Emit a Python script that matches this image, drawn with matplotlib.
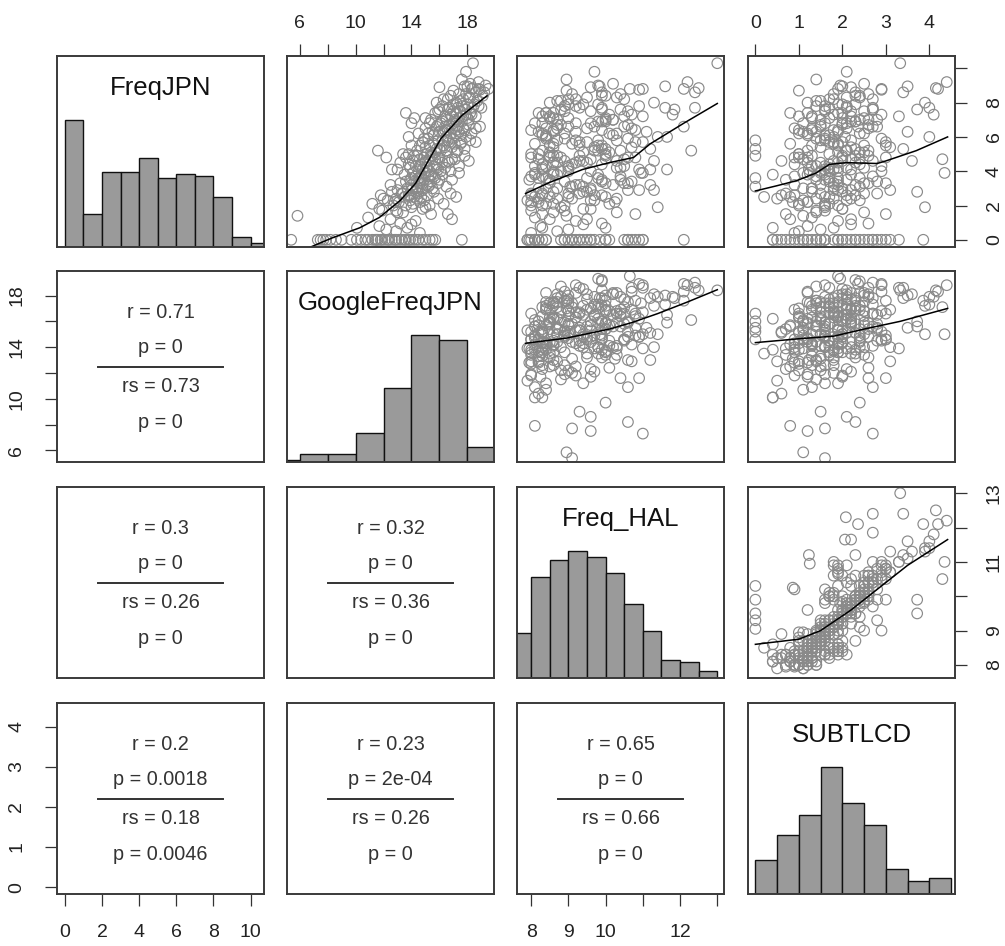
import matplotlib
matplotlib.use('Agg')
import matplotlib.pyplot as plt
import numpy as np

plt.rcParams['font.family'] = ['Liberation Sans', 'DejaVu Sans']

names = ['FreqJPN', 'GoogleFreqJPN', 'Freq_HAL', 'SUBTLCD']

# one row per word: FreqJPN, GoogleFreqJPN, Freq_HAL, SUBTLCD
freq_jpn = [0] * 40 + [
    0.7, 0.8, 0.7, 0.5, 0.9, 0.6, 0.4, 0.95,
    1.4, 1.3, 1.8, 1.2, 1.6, 1.9, 1.1, 1.5, 1.5, 1.2, 1.7, 1.9,
    2.1, 2.6, 2.3, 2.8, 2.4, 2.9, 2.2, 2.7, 2.5, 2.0, 2.6, 2.3, 2.9, 2.1, 2.5, 2.8, 2.4, 2.7, 2.2, 2.9, 2.3, 2.6, 2.0, 2.8, 2.4, 2.1, 2.7, 2.5,
    3.1, 3.6, 3.3, 3.8, 3.0, 3.5, 3.2, 3.9, 3.4, 3.7, 3.1, 3.6, 3.3, 3.8, 3.0, 3.5, 3.9, 3.2, 3.7, 3.4, 3.0, 3.6, 3.3, 3.8, 3.1, 3.5, 3.9, 3.2,
    4.9, 4.1, 4.5, 4.8, 4.2, 4.6, 4.3, 4.9, 4.0, 4.7, 4.4, 4.1, 4.8, 4.5, 4.2, 4.6, 4.0, 4.9, 4.3, 4.7, 4.4, 4.1, 4.8, 4.5, 4.2, 4.6, 4.0, 4.7, 4.3, 4.9, 4.8, 4.1, 4.6,
    5.3, 5.8, 5.0, 5.5, 5.2, 5.7, 5.4, 5.9, 5.1, 5.6, 5.3, 5.8, 5.2, 5.5, 5.2, 5.7, 5.4, 5.9, 5.1, 5.6, 5.3, 5.8, 5.0, 5.5, 5.2, 5.7,
    6.0, 6.2, 6.5, 6.8, 6.1, 6.6, 6.3, 6.9, 6.4, 6.0, 6.7, 6.2, 6.5, 6.8, 6.1, 6.6, 6.3, 6.9, 6.4, 6.0, 6.7, 6.2, 6.5, 6.8, 6.3, 6.6, 6.4,
    7.4, 7.1, 7.0, 7.5, 7.8, 7.2, 7.6, 7.3, 7.9, 7.0, 7.4, 7.7, 7.1, 7.5, 7.8, 7.2, 7.6, 7.3, 7.9, 7.0, 7.4, 7.7, 7.2, 7.8, 7.7, 7.1, 7.6,
    8.8, 8.0, 8.85, 8.8, 8.7, 8.95, 8.8, 8.95, 8.6, 8.2, 8.4, 8.1, 8.5, 8.3, 8.75, 8.0, 8.4, 8.2, 8.9,
    9.35, 9.2, 9.1, 9.0, 9.8, 10.3,
    2.2, 3.4, 4.6, 5.8, 6.9, 7.6, 2.9, 3.9, 5.1, 6.3, 7.2, 8.3, 1.6, 2.5, 3.7, 4.4, 5.6, 6.7, 7.9, 4.0,
    2.7, 3.2, 4.9, 5.4, 6.1, 7.0, 8.5, 3.6, 4.2, 5.0, 6.5, 7.3, 2.4, 3.0, 4.7, 5.9, 6.8, 7.5, 8.1, 1.8,
    3.5, 4.3, 5.5, 6.4, 7.1, 2.6, 3.8, 4.5, 5.7, 6.2, 7.7, 8.6, 2.0, 3.3, 4.8, 5.2, 6.6, 7.4, 8.2, 1.7]

google_freq_jpn = [
    5.4, 7.3, 7.5, 7.7, 7.9, 8.2, 8.6, 9.0, 9.7, 10.1, 10.4, 10.7, 10.9, 11.2, 11.4, 11.5, 11.6, 11.8, 11.9, 12.1,
    12.3, 12.4, 12.6, 12.8, 12.9, 13.1, 13.3, 13.5, 13.6, 13.8, 13.9, 14.1, 14.3, 14.5, 14.8, 15.0, 15.3, 15.5, 15.7, 17.6,
    10.1, 11.7, 13.7, 12.9, 14.0, 12.2, 14.6, 13.2,
    5.85, 10.9, 11.7, 12.5, 13.4, 14.0, 14.3, 15.4, 16.6, 16.9, 12.9, 15.0,
    11.2, 11.8, 12.3, 12.6, 12.9, 13.0, 13.1, 13.3, 13.5, 13.6, 13.8, 13.9, 14.0, 14.1, 14.2, 14.3, 14.4, 14.5, 14.6, 14.8, 14.9, 15.1, 15.3, 15.6, 15.9, 16.3, 16.8, 17.2,
    15.2, 14.6, 13.2, 13.5, 13.7, 13.9, 14.0, 14.1, 14.2, 14.3, 14.4, 14.5, 14.6, 14.7, 14.8, 14.9, 15.0, 15.1, 15.2, 15.4, 15.5, 15.7, 15.9, 16.2, 16.5, 16.9, 17.4, 12.5,
    15.5, 12.6, 13.2, 13.6, 13.9, 14.1, 14.3, 14.4, 14.5, 14.6, 14.7, 14.8, 14.9, 15.0, 15.1, 15.2, 15.3, 15.4, 15.6, 15.7, 15.8, 15.9, 16.0, 16.2, 16.4, 16.6, 16.8, 17.1, 17.4, 17.8, 12.2, 13.0, 18.1,
    16.0, 16.6, 13.4, 14.0, 14.4, 14.8, 15.0, 15.2, 15.4, 15.6, 15.8, 15.9, 16.1, 16.3, 16.5, 16.7, 16.9, 17.0, 17.2, 17.5, 17.8, 18.2, 13.8, 14.6, 11.6, 18.6,
    13.8, 14.5, 15.0, 15.3, 15.6, 15.8, 16.0, 16.2, 16.4, 16.5, 16.7, 16.8, 16.9, 17.0, 17.1, 17.3, 17.4, 17.6, 17.8, 17.9, 18.1, 18.3, 18.6, 14.0, 15.5, 18.9, 16.6,
    13.6, 14.2, 15.4, 15.9, 16.2, 16.4, 16.6, 16.8, 17.0, 17.1, 17.2, 17.3, 17.4, 17.5, 17.6, 17.7, 17.8, 17.9, 18.0, 18.1, 18.2, 18.4, 18.6, 18.8, 19.0, 15.0, 16.0,
    19.5, 17.2, 18.4, 18.3, 17.0, 17.8, 18.8, 18.0, 18.6, 16.3, 16.8, 17.5, 17.9, 18.1, 18.9, 15.8, 19.1, 17.7, 16.0,
    17.6, 18.8, 18.2, 19.3, 17.9, 18.4,
    12.8, 13.6, 15.0, 16.2, 17.2, 17.9, 14.4, 14.9, 15.7, 16.3, 16.9, 18.2, 13.0, 14.7, 15.6, 13.8, 17.1, 15.9, 18.5, 16.1,
    13.4, 15.3, 14.2, 16.4, 17.5, 16.5, 17.4, 14.0, 15.8, 15.1, 17.7, 18.3, 12.0, 14.1, 16.9, 14.9, 16.1, 17.0, 18.7, 14.8,
    16.0, 14.6, 15.3, 17.2, 18.0, 13.9, 15.4, 16.7, 17.6, 15.2, 16.7, 19.2, 12.7, 14.8, 15.9, 17.3, 16.4, 15.7, 16.6, 11.9]

freq_hal = [
    9.1, 11.0, 9.6, 9.1, 8.1, 10.6, 9.6, 9.3, 10.0, 8.1, 8.2, 8.4, 10.6, 9.4, 7.9, 8.8, 10.9, 9.2, 8.0, 9.7,
    8.3, 10.1, 8.9, 7.95, 10.7, 9.1, 8.2, 9.5, 10.0, 8.1, 11.0, 9.3, 8.4, 10.5, 8.9, 9.85, 7.9, 10.8, 9.0, 12.1,
    8.3, 8.25, 10.0, 8.7, 9.4, 9.0, 8.0, 9.9,
    8.95, 8.1, 9.6, 8.5, 10.3, 8.8, 9.2, 8.3, 10.8, 9.5, 8.0, 11.4,
    8.4, 8.0, 9.6, 8.6, 8.2, 10.6, 10.25, 8.3, 8.5, 8.3, 9.9, 7.9, 11.3, 10.1, 8.1, 9.4, 8.7, 9.3, 8.0, 10.9, 9.7, 8.3, 8.9, 9.5, 10.3, 8.6, 9.0, 10.0,
    9.05, 9.5, 8.5, 9.8, 8.2, 7.95, 10.2, 8.6, 10.7, 8.3, 9.1, 8.2, 10.5, 8.1, 9.6, 9.9, 11.0, 11.2, 8.0, 9.9, 8.7, 8.4, 10.0, 8.6, 9.4, 10.4, 10.95, 9.2,
    9.3, 8.3, 9.5, 8.0, 10.3, 10.3, 8.4, 8.5, 8.6, 8.2, 9.9, 10.9, 10.8, 8.7, 8.3, 8.9, 9.6, 10.0, 8.1, 9.6, 9.1, 11.65, 10.6, 8.6, 10.4, 9.3, 9.0, 10.5, 9.0, 8.7, 8.8, 11.2, 11.3,
    9.9, 10.3, 10.0, 9.8, 8.3, 9.5, 8.6, 10.6, 8.5, 8.1, 10.0, 9.8, 12.3, 8.5, 9.7, 11.0, 10.7, 8.4, 9.4, 8.6, 11.2, 9.2, 8.0, 9.9, 10.4, 9.3,
    8.4, 10.1, 8.7, 9.2, 10.2, 10.5, 8.2, 9.8, 10.8, 11.65, 8.8, 10.3, 8.4, 9.6, 8.3, 9.7, 8.6, 10.0, 9.9, 11.4, 8.7, 8.9, 10.7, 8.3, 11.1, 12.1, 8.0,
    8.6, 8.6, 10.0, 8.9, 10.9, 8.3, 10.4, 10.1, 9.8, 8.7, 8.4, 11.6, 8.5, 10.6, 8.9, 10.5, 11.85, 11.8, 9.0, 10.2, 8.4, 9.9, 11.0, 9.2, 12.4, 9.0, 9.9,
    10.65, 11.3, 12.5, 12.1, 8.95, 9.84, 11.0, 11.6, 12.4, 9.2, 10.0, 8.7, 10.4, 9.5, 10.9, 8.5, 9.9, 9.0, 9.6,
    8.95, 12.2, 10.2, 9.8, 9.7, 13.0,
    8.2, 8.9, 9.4, 8.7, 9.9, 8.8, 9.6, 8.1, 10.1, 9.2, 8.5, 10.3, 8.6, 9.0, 10.4, 8.3, 9.1, 10.6, 9.4, 8.8,
    8.0, 9.3, 8.6, 9.7, 8.4, 10.2, 9.1, 9.8, 9.0, 8.2, 9.5, 10.7, 9.1, 8.4, 10.0, 8.9, 8.1, 9.6, 8.8, 9.4,
    8.5, 10.5, 9.3, 8.6, 10.0, 9.7, 8.7, 9.2, 10.8, 8.3, 9.3, 9.9, 8.0, 10.6, 8.5, 9.8, 9.0, 8.2, 10.5, 8.9]

subtlcd = [
    1.6, 2.7, 1.2, 1.6, 0.8, 2.3, 2.1, 1.5, 2.4, 0.4, 0.6, 1.1, 2.7, 1.9, 0.5, 1.4, 3.0, 2.0, 1.2, 2.2,
    0.7, 2.6, 1.8, 0.9, 3.1, 1.5, 1.3, 2.3, 2.0, 0.4, 3.3, 1.6, 1.0, 2.9, 1.9, 2.5, 1.1, 2.8, 1.4, 3.86,
    0.4, 1.2, 1.8, 1.0, 2.2, 1.5, 0.9, 2.6,
    1.1, 1.3, 2.0, 0.8, 2.5, 1.6, 1.9, 0.7, 3.0, 2.2, 1.4, 3.9,
    1.6, 0.9, 2.1, 1.3, 0.5, 1.8, 0.86, 1.5, 0.2, 1.9, 2.3, 1.1, 3.1, 1.7, 0.8, 2.0, 1.4, 2.8, 1.2, 1.9, 2.4, 0.6, 1.6, 3.72, 2.2, 1.0, 2.5, 1.7,
    0.0, 0.0, 1.8, 2.2, 1.3, 0.7, 0.9, 1.5, 1.9, 0.9, 2.4, 1.7, 3.0, 1.2, 2.0, 1.6, 4.35, 2.3, 1.4, 2.8, 1.1, 1.9, 2.5, 0.4, 1.8, 2.1, 1.25, 1.5,
    0.0, 1.6, 2.3, 0.9, 1.9, 2.7, 1.3, 2.0, 1.7, 1.1, 2.4, 1.8, 3.0, 1.5, 2.1, 0.6, 1.9, 2.6, 1.4, 2.2, 1.7, 2.2, 2.0, 1.2, 2.5, 1.8, 2.9, 4.3, 1.6, 2.3, 1.0, 1.23, 3.6,
    0.0, 0.0, 1.7, 2.5, 1.2, 2.0, 1.5, 2.9, 1.9, 0.8, 2.3, 1.6, 2.08, 1.3, 2.1, 1.8, 3.1, 1.4, 2.4, 1.9, 3.4, 2.2, 1.0, 3.0, 2.6, 1.7,
    1.8, 2.4, 1.3, 2.0, 1.6, 2.8, 1.1, 2.2, 1.9, 2.06, 1.5, 2.5, 0.9, 2.1, 1.7, 2.7, 1.4, 2.3, 1.8, 4.0, 2.0, 1.2, 2.6, 1.6, 3.5, 2.36, 1.0,
    1.9, 1.3, 2.4, 1.6, 2.1, 1.0, 2.7, 1.8, 2.3, 1.5, 2.0, 4.0, 1.7, 2.5, 1.4, 2.2, 2.7, 4.1, 1.9, 2.6, 1.2, 2.1, 3.3, 1.6, 2.7, 2.0, 3.72,
    1.9, 3.9, 4.15, 4.2, 1.0, 2.0, 2.9, 3.5, 3.4, 1.8, 2.3, 1.5, 2.6, 2.1, 2.9, 1.2, 2.4, 1.7, 2.2,
    1.4, 4.4, 2.5, 1.95, 2.1, 3.33,
    1.2, 1.7, 2.0, 1.5, 2.3, 1.6, 2.2, 1.1, 2.5, 1.9, 1.3, 2.4, 1.4, 1.6, 2.7, 0.9, 1.8, 2.6, 2.0, 1.5,
    0.7, 1.9, 1.3, 2.2, 1.2, 2.8, 1.8, 2.4, 1.7, 1.0, 2.1, 2.9, 1.8, 1.3, 2.4, 1.6, 1.1, 2.2, 1.4, 2.0,
    1.4, 2.9, 1.9, 1.3, 2.5, 2.1, 1.6, 1.9, 3.0, 1.0, 1.7, 2.3, 1.0, 2.6, 1.2, 2.1, 1.5, 0.8, 2.7, 1.6]

# histogram counts on the diagonal
hist_edges = [np.arange(0, 12, 1), np.arange(4, 22, 2), np.arange(7.5, 13.5, 0.5), np.arange(0, 5.0, 0.5)]
hist_counts = [
    [66, 17, 39, 39, 46, 36, 38, 37, 26, 5, 2],
    [2, 7, 7, 26, 67, 116, 111, 14],
    [20, 45, 53, 57, 54, 47, 33, 21, 8, 7, 3],
    [23, 40, 54, 87, 62, 47, 17, 9, 11],
]

# lowess curves (x, y), keyed by (row, col)
smooth = {
    (0, 1): ([5.4, 6.65, 8.3, 10.3, 11.7, 13.2, 14.3, 15.2, 16.1, 17.6, 19.4],
             [-0.9, -0.47, 0.1, 0.7, 1.3, 2.3, 3.3, 4.6, 5.9, 7.25, 8.4]),
    (0, 2): ([7.85, 8.5, 9.38, 10.1, 10.75, 11.2, 12.1, 13.0],
             [2.7, 3.35, 4.1, 4.5, 4.8, 5.6, 6.8, 7.95]),
    (0, 3): ([0, 0.49, 0.95, 1.4, 1.7, 2.1, 2.8, 3.0, 3.7, 4.42],
             [2.85, 3.15, 3.45, 3.9, 4.4, 4.5, 4.45, 4.6, 5.2, 6.0]),
    (1, 2): ([7.85, 8.95, 10.1, 10.7, 11.4, 12.2, 13.0],
             [14.3, 14.7, 15.4, 15.9, 16.6, 17.5, 18.45]),
    (1, 3): ([0, 1.0, 1.8, 2.5, 3.33, 4.42],
             [14.35, 14.65, 14.85, 15.4, 16.0, 17.0]),
    (2, 3): ([0, 1.0, 1.5, 2.2, 2.9, 3.5, 4.42],
             [8.6, 8.75, 9.0, 9.6, 10.3, 10.9, 11.65]),
}

# correlation texts for the lower panels
cor_text = {
    (1, 0): ['r = 0.71', 'p = 0', 'rs = 0.73', 'p = 0'],
    (2, 0): ['r = 0.3', 'p = 0', 'rs = 0.26', 'p = 0'],
    (2, 1): ['r = 0.32', 'p = 0', 'rs = 0.36', 'p = 0'],
    (3, 0): ['r = 0.2', 'p = 0.0018', 'rs = 0.18', 'p = 0.0046'],
    (3, 1): ['r = 0.23', 'p = 2e-04', 'rs = 0.26', 'p = 0'],
    (3, 2): ['r = 0.65', 'p = 0', 'rs = 0.66', 'p = 0'],
}

lims = [(-0.42, 10.72), (5.1, 19.9), (7.62, 13.18), (-0.17, 4.59)]
ticks = [[0, 2, 4, 6, 8, 10], [6, 8, 10, 12, 14, 16, 18], [8, 9, 10, 11, 12, 13], [0, 1, 2, 3, 4]]
tick_labels_h = [['0', '2', '4', '6', '8', '10'], ['6', '', '10', '', '14', '', '18'],
                 ['8', '9', '10', '', '12', ''], ['0', '1', '2', '3', '4']]
tick_labels_v = [['0', '2', '4', '6', '8', ''], ['6', '', '10', '', '14', '', '18'],
                 ['8', '9', '', '11', '', '13'], ['0', '1', '2', '3', '4']]

data = [freq_jpn, google_freq_jpn, freq_hal, subtlcd]

W, H = 1005, 946
col_left = [57, 287, 517, 748]
row_top = [56, 271, 487, 703]
pw, ph = 207, 191

fig = plt.figure(figsize=(W / 100, H / 100), dpi=100)
frame_col = '#3a3a3a'
tick_kw = dict(length=8.6, width=0.9, color='#333333', labelsize=14, labelcolor='#222222')

for i in range(4):
    for j in range(4):
        ax = fig.add_axes([col_left[j] / W, 1 - (row_top[i] + ph) / H, pw / W, ph / H])
        for s in ax.spines.values():
            s.set_color(frame_col)
            s.set_linewidth(1.4)
        ax.set_xticks([])
        ax.set_yticks([])
        if i == j:
            e = hist_edges[i]
            ax.bar(e[:-1], hist_counts[i], width=e[1] - e[0], align='edge',
                   color='#9a9a9a', edgecolor='#111111', linewidth=1.0)
            ax.text(0.5, 0.835, names[i], transform=ax.transAxes, ha='center', va='center',
                    fontsize=18.5, color='#111111')
        elif i < j:
            ax.scatter(data[j], data[i], s=58, facecolors='none', edgecolors='#8a8a8a', linewidths=0.85)
            sx, sy = smooth[(i, j)]
            ax.plot(sx, sy, color='black', linewidth=1.1)
        else:
            lines = cor_text[(i, j)]
            for yy, t in zip([0.785, 0.597, 0.395, 0.205], lines):
                ax.text(0.5, yy, t, transform=ax.transAxes, ha='center', va='center',
                        fontsize=14.3, color='#333333')
            ax.plot([0.198, 0.802], [0.497, 0.497], transform=ax.transAxes,
                    color='#333333', linewidth=1.4)

        # outer axes, alternating like pairs()
        if i == 0 and j in (1, 3):
            ax.xaxis.set_ticks_position('top')
            ax.set_xticks(ticks[j])
            ax.set_xticklabels(tick_labels_h[j])
            ax.tick_params(axis='x', top=True, bottom=False, labeltop=True, labelbottom=False, pad=8.6, **tick_kw)
        if i == 3 and j in (0, 2):
            ax.set_xticks(ticks[j])
            ax.set_xticklabels(tick_labels_h[j])
            ax.tick_params(axis='x', pad=13, **tick_kw)
        if j == 0 and i in (1, 3):
            ax.set_yticks(ticks[i])
            ax.set_yticklabels(tick_labels_v[i], rotation=90, va='center')
            ax.tick_params(axis='y', pad=14.4, **tick_kw)
        if j == 3 and i in (0, 2):
            ax.yaxis.set_ticks_position('right')
            ax.set_yticks(ticks[i])
            ax.set_yticklabels(tick_labels_v[i], rotation=90, va='center')
            ax.tick_params(axis='y', right=True, left=False, labelright=True, labelleft=False, pad=13.7, **tick_kw)

        ax.set_xlim(lims[j])
        if i == j:
            ax.set_ylim(0, 1.5 * max(hist_counts[i]))
        else:
            ax.set_ylim(lims[i])

fig.savefig('out.png', dpi=100, facecolor='white')
